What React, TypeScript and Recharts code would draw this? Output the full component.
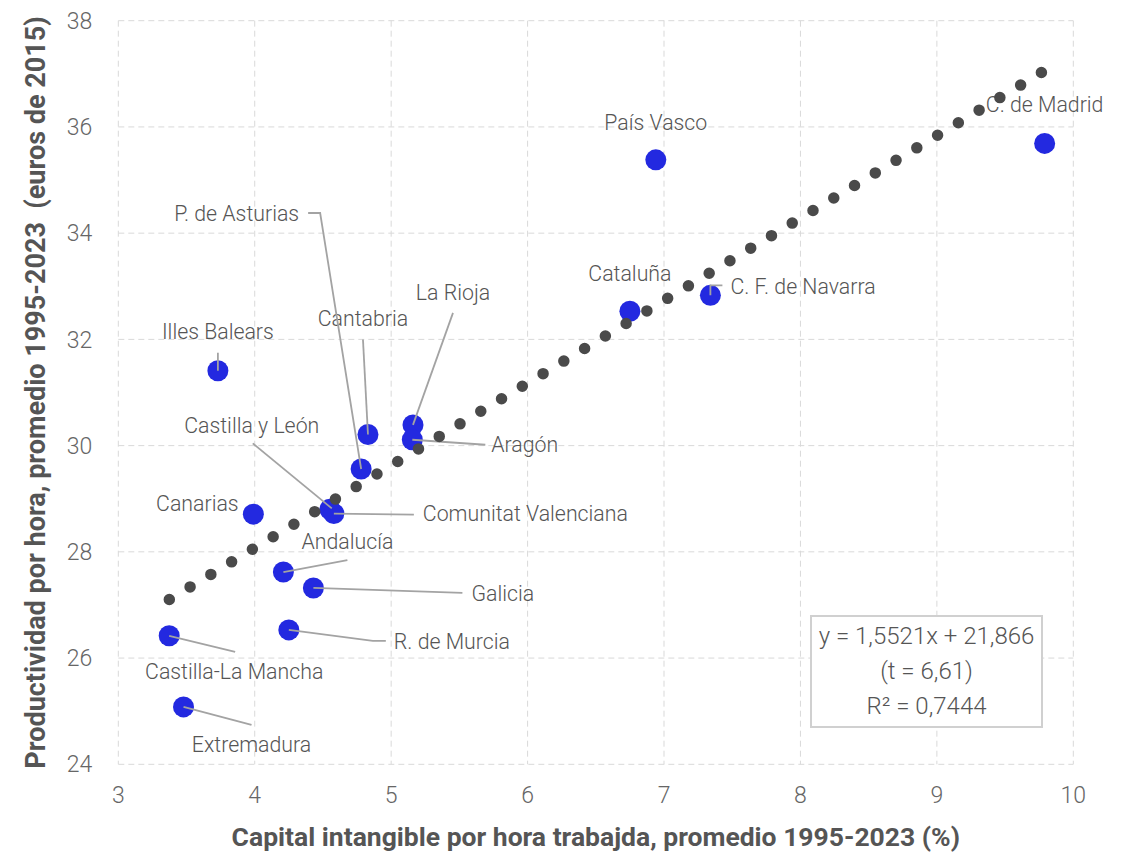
import React from 'react';
import { ScatterChart, Scatter, XAxis, YAxis, CartesianGrid } from 'recharts';

// ---- Data ----
const regions = [
  'C. de Madrid', 'País Vasco', 'C. F. de Navarra', 'Cataluña', 'Illes Balears',
  'Cantabria', 'La Rioja', 'Aragón', 'P. de Asturias', 'Castilla y León',
  'Comunitat Valenciana', 'Canarias', 'Andalucía', 'Galicia', 'R. de Murcia',
  'Castilla-La Mancha', 'Extremadura',
];
const intangibleCapital = [
  9.79, 6.94, 7.34, 6.75, 3.73,
  4.83, 5.16, 5.155, 4.78, 4.55,
  4.58, 3.99, 4.21, 4.43, 4.25,
  3.373, 3.478,
];
const productivity = [
  35.69, 35.38, 32.83, 32.53, 31.41,
  30.21, 30.39, 30.11, 29.56, 28.8,
  28.72, 28.71, 27.62, 27.32, 26.53,
  26.42, 25.08,
];
const trendX = [3.374, 9.768];
const trendY = [27.103, 37.027];
const xTicks = [3, 4, 5, 6, 7, 8, 9, 10];
const yTicks = [24, 26, 28, 30, 32, 34, 36, 38];
const equationLines = ['y = 1,5521x + 21,866', '(t = 6,61)', 'R² = 0,7444'];
const xTitle = 'Capital intangible por hora trabajda, promedio 1995-2023 (%)';
const yTitle = 'Productividad por hora, promedio 1995-2023  (euros de 2015)';

// ---- Annotation layout (pixel offsets of label and leader line from each point) ----
type Layout = { dx: number; dy: number; anchor: 'start' | 'middle' | 'end'; path?: number[][] };
const labelLayout: Layout[] = [
  { dx: 0, dy: -39, anchor: 'middle' },
  { dx: 0, dy: -38, anchor: 'middle' },
  { dx: 20, dy: -9, anchor: 'start', path: [[0, 0], [0, -10], [12, -10]] },
  { dx: 0, dy: -38, anchor: 'middle' },
  { dx: 0, dy: -39, anchor: 'middle', path: [[0, 0], [0, -18]] },
  { dx: -5, dy: -116, anchor: 'middle', path: [[0, 0], [-5, -95]] },
  { dx: 40, dy: -133, anchor: 'middle', path: [[0, 0], [40, -112]] },
  { dx: 79, dy: 5, anchor: 'start', path: [[0, 0], [73, 5]] },
  { dx: -62, dy: -256, anchor: 'end', path: [[0, 0], [-41, -256], [-53, -256]] },
  { dx: -78, dy: -84, anchor: 'middle', path: [[2, -1], [-77, -66]] },
  { dx: 89, dy: 0, anchor: 'start', path: [[0, 0], [80, 1]] },
  { dx: -56, dy: -11, anchor: 'middle' },
  { dx: 64, dy: -31, anchor: 'middle', path: [[0, 0], [64, -12]] },
  { dx: 158, dy: 5, anchor: 'start', path: [[0, 0], [149, 5]] },
  { dx: 105, dy: 11, anchor: 'start', path: [[0, 0], [84, 11], [97, 11]] },
  { dx: 65, dy: 36, anchor: 'middle', path: [[0, 0], [66, 16]] },
  { dx: 68, dy: 37, anchor: 'middle', path: [[0, 0], [68, 18]] },
];

const points = regions.map((name, i) => ({ name, x: intangibleCapital[i], y: productivity[i], i }));
const trend = trendX.map((x, i) => ({ x, y: trendY[i] }));

const FONT = 'Roboto, "Noto Sans", sans-serif';
const BLUE = '#2329E0';
const DARK = '#4a4a4a';
const TEXT = '#555555';

const BlueDot = (props: any) => {
  const { cx, cy } = props;
  if (cx == null || cy == null) return <g />;
  return <circle cx={cx} cy={cy} r={10.5} fill={BLUE} />;
};

const Annotation = (props: any) => {
  const { cx, cy, payload } = props;
  if (cx == null || cy == null || !payload) return <g />;
  const lay = labelLayout[payload.i];
  return (
    <g>
      {lay.path && (
        <polyline
          points={lay.path.map(([dx, dy]) => `${cx + dx},${cy + dy}`).join(' ')}
          fill="none"
          stroke="#a3a3a3"
          strokeWidth={1.8}
        />
      )}
      <text
        x={cx + lay.dx}
        y={cy + lay.dy}
        dy="0.36em"
        textAnchor={lay.anchor}
        fontFamily={FONT}
        fontSize={21.3}
        fontWeight={300}
        fill={TEXT}
      >
        {payload.name}
      </text>
    </g>
  );
};

const NoShape = () => <g />;

const XTitle = (props: any) => {
  const vb = props.viewBox || {};
  return (
    <text
      x={vb.x + vb.width / 2}
      y={vb.y + 82}
      textAnchor="middle"
      fontFamily={FONT}
      fontSize={26.5}
      fontWeight={700}
      fill={TEXT}
    >
      {xTitle}
    </text>
  );
};

const YTitle = (props: any) => {
  const vb = props.viewBox || {};
  const cx = 36.5;
  const cy = vb.y + vb.height / 2;
  return (
    <text
      x={cx}
      y={cy}
      transform={`rotate(-90, ${cx}, ${cy})`}
      textAnchor="middle"
      fontFamily={FONT}
      fontSize={27}
      fontWeight={700}
      fill={TEXT}
      style={{ whiteSpace: 'pre' }}
    >
      {yTitle}
    </text>
  );
};

export default function App() {
  return (
    <div style={{ position: 'relative', width: 1112, height: 844, fontFamily: FONT }}>
      <ScatterChart
        width={1112}
        height={844}
        margin={{ top: 12.7, right: 46.7, bottom: 27.7, left: 0 }}
      >
        <CartesianGrid stroke="#d9d9d9" strokeDasharray="6 4" strokeWidth={1} />
        <XAxis
          type="number"
          dataKey="x"
          domain={[3, 10]}
          ticks={xTicks}
          axisLine={false}
          tickLine={false}
          tickSize={0}
          tickMargin={22}
          height={60}
          tick={{ fill: '#666', fontSize: 23, fontWeight: 300, fontFamily: FONT }}
          label={{ content: XTitle } as any}
        />
        <YAxis
          type="number"
          dataKey="y"
          domain={[24, 38]}
          ticks={yTicks}
          axisLine={false}
          tickLine={false}
          tickSize={0}
          tickMargin={26}
          width={110.3}
          tick={{ fill: '#666', fontSize: 23, fontWeight: 300, fontFamily: FONT }}
          label={{ content: YTitle } as any}
        />
        <Scatter data={points} shape={BlueDot} isAnimationActive={false} />
        <Scatter data={points} shape={Annotation} isAnimationActive={false} />
        <Scatter
          data={trend}
          shape={NoShape}
          isAnimationActive={false}
          line={{ stroke: DARK, strokeWidth: 11.5, strokeDasharray: '0 24.26', strokeLinecap: 'round', fill: 'none' } as any}
        />
      </ScatterChart>
      <div
        style={{
          position: 'absolute',
          left: 802,
          top: 607,
          width: 233,
          height: 113,
          boxSizing: 'border-box',
          border: '2px solid #d0d0d0',
          background: '#fff',
          color: TEXT,
          fontFamily: FONT,
          fontWeight: 300,
          fontSize: 24,
          lineHeight: '35px',
          textAlign: 'center',
          paddingTop: 2,
        }}
      >
        {equationLines.map((l) => (
          <div key={l}>{l}</div>
        ))}
      </div>
    </div>
  );
}
